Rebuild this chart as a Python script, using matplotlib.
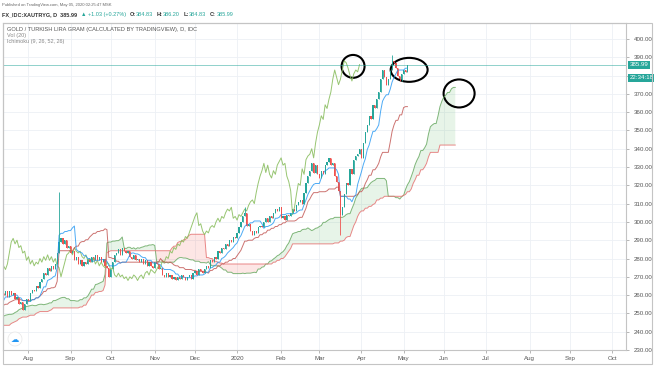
import numpy as np
import pandas as pd
import matplotlib
matplotlib.use("Agg")
import matplotlib.pyplot as plt
from matplotlib.patches import Ellipse, Rectangle
from matplotlib.transforms import blended_transform_factory

plt.rcParams['font.family'] = ['Liberation Sans', 'DejaVu Sans']

# daily closes (business days), gold / turkish lira gram
pre_start = "2019-03-18"
pre_closes = [232, 233, 234, 233, 235, 236, 235, 234, 236, 235,
              234, 233, 235, 236, 237, 238, 239, 240, 238, 237,
              236, 237, 238, 239, 238, 240, 241, 243, 244, 245,
              244, 243, 242, 243, 244, 246, 248, 249, 250, 252,
              254, 253, 251, 250, 249, 248, 247, 246, 245, 246,
              245, 244, 246, 247, 249, 250, 251, 252, 251, 250,
              249, 248, 250, 251, 252, 253, 255, 256, 258, 259,
              260, 259, 257, 256, 255, 254, 253, 256, 257, 256,
              257, 258, 259, 260, 261]
start = "2019-07-15"
closes = [260, 262, 259, 262, 260, 261, 258, 259, 255, 256,
          252, 255, 258, 257, 261, 263, 262, 265, 264, 267,
          269, 272, 271, 275, 273, 276, 274, 277, 283, 289,
          291, 288, 290, 286, 287, 283, 284, 279, 281, 277,
          279, 276, 278, 277, 280, 278, 281, 279, 282, 279,
          281, 278, 280, 276, 275, 270, 274, 278, 282, 283,
          285, 282, 286, 284, 283, 284, 281, 280, 282, 279,
          280, 278, 280, 277, 279, 276, 278, 276, 275, 278,
          277, 274, 275, 271, 270, 272, 270, 271, 269, 270,
          268, 270, 269, 271, 270, 268, 270, 271, 269, 272,
          273, 271, 274, 273, 272, 274, 276, 275, 279, 278,
          281, 280, 284, 283, 286, 285, 288, 287, 290, 289,
          292, 291, 294, 297, 300, 303, 305, 298, 299, 295,
          293, 295, 294, 297, 298, 297, 300, 302, 300, 303,
          302, 305, 307, 306, 308, 302, 303, 301, 304, 303,
          305, 307, 306, 309, 311, 312, 310, 316, 321, 325,
          328, 332, 327, 331, 326, 324, 328, 326, 331, 333,
          335, 331, 332, 325, 322, 317, 304, 308, 315, 321,
          320, 329, 326, 334, 336, 337, 340, 335, 343, 349,
          353, 358, 356, 364, 362, 367, 371, 378, 383, 379,
          375, 378, 383, 388, 387, 384, 380, 377, 381, 383,
          382, 385.99]
spike_high = {29: 316.5, 126: 308.0, 203: 391.0}
spike_low = {176: 293.0}

price_ticks = list(range(230, 401, 10))
last_price = 385.99
last_time = "22:34:18"
circles = [(182.6, 385.0, 12.0, 12.5), (211.9, 383.1, 19.3, 13.1), (238.0, 370.2, 16.2, 15.3)]

n_pre = len(pre_closes)
c = np.array(pre_closes + closes, dtype=float)
o = np.r_[c[0], c[:-1]]
h = np.maximum(o, c)
l = np.minimum(o, c)
for k, v in spike_high.items():
    h[n_pre + k] = v
for k, v in spike_low.items():
    l[n_pre + k] = v
idx = np.arange(len(c)) - n_pre

H, L = pd.Series(h), pd.Series(l)
def mid(n):
    return ((H.rolling(n).max() + L.rolling(n).min()) / 2).values
tenkan = mid(9)
kijun = mid(26)
span_a = (tenkan + kijun) / 2
span_b = mid(52)

fig = plt.figure(figsize=(6.54, 3.66), dpi=100)
W, HH = 654, 366
def fx(x): return x / W
def fy(y): return 1 - y / HH

ax = fig.add_axes([fx(3), fy(350), (626 - 3) / W, (350 - 23) / HH])
ax.set_xlim(-0.3, 325.2)
ax.set_ylim(230.5, 408.7)

# month ticks on business-day index
days = pd.bdate_range(start, periods=330)
ser = pd.Series(np.arange(len(days)), index=days)
first = ser.groupby([days.year, days.month]).min()
mpos = first.values[1:]
mlab = ["2020" if d.month == 1 else d.strftime("%b") for d in days[mpos]]
ax.set_xticks(mpos)
ax.set_xticklabels(mlab)
ax.set_yticks(price_ticks)
ax.set_yticklabels(["" if p == 380 else "%.2f" % p for p in price_ticks])
ax.yaxis.tick_right()
ax.tick_params(axis='both', labelsize=4.4, colors='#9a9a9a', labelcolor='#555555', length=2, width=0.5)
ax.tick_params(axis='x', pad=2.5)
ax.grid(color='#edf0f5', lw=0.6)
ax.set_axisbelow(True)
for s in ax.spines.values():
    s.set_color('#c4c4c4')
    s.set_linewidth(0.8)

# cloud
sx = idx + 25
ax.fill_between(sx, span_a, span_b, where=span_a >= span_b, interpolate=True, color='#4caf50', alpha=0.13, lw=0)
ax.fill_between(sx, span_a, span_b, where=span_a < span_b, interpolate=True, color='#f44336', alpha=0.13, lw=0)
ax.plot(sx, span_a, color='#6aaa64', lw=0.7, alpha=0.85)
ax.plot(sx, span_b, color='#e57373', lw=0.7, alpha=0.85)
ax.plot(idx - 25, c, color='#8cbf62', lw=0.7, alpha=0.9)
ax.plot(idx, kijun, color='#c0504d', lw=0.7, alpha=0.8)
ax.plot(idx, tenkan, color='#2196f3', lw=0.7, alpha=0.8)

# candles
vis = idx >= -1
up = c >= o
col = np.where(up, '#26a69a', '#ef5350')
ax.vlines(idx[vis], l[vis], h[vis], colors=col[vis], lw=0.6)
ax.bar(idx[vis], c[vis] - o[vis], bottom=o[vis], width=0.62, color=col[vis], lw=0)

ax.axhline(last_price, color='#26a69a', lw=0.6, alpha=0.6)

bt = blended_transform_factory(ax.transAxes, ax.transData)
ax.text(1.006, last_price, "%.2f" % last_price, transform=bt, fontsize=4.4, color='white',
        va='center', ha='left', bbox=dict(boxstyle='square,pad=0.25', fc='#26a69a', ec='none'), clip_on=False)
ax.annotate(last_time, xy=(1.006, last_price), xycoords=bt, xytext=(0, -9.5), textcoords='offset points',
            fontsize=4.4, color='white', va='center', ha='left',
            bbox=dict(boxstyle='square,pad=0.25', fc='#26a69a', ec='none'), annotation_clip=False)

for cx, cy, w, hgt in circles:
    ax.add_patch(Ellipse((cx, cy), w, hgt, fill=False, color='black', lw=1.5, clip_on=False))

# outer frame
fig.add_artist(Rectangle((fx(3), fy(364)), fx(652) - fx(3), fy(23) - fy(364), transform=fig.transFigure,
                         fill=False, ec='#c4c4c4', lw=0.8))

# icon
fig.text(fx(15), fy(339), "\u2601", fontsize=6, color='#2196f3', ha='center', va='center',
         family=['DejaVu Sans'],
         bbox=dict(boxstyle='circle,pad=0.3', fc='white', ec='#e6e6e6', lw=0.5))

# header texts
fig.text(fx(2), fy(5), "Published on TradingView.com, May 05, 2020 02:25:47 MSK", fontsize=3.0,
         color='#666666', va='center')
r = fig.canvas.get_renderer()
xpos = 2
parts = [("FX_IDC:XAUTRYG, D  385.99", '#333333', 'bold'),
         ("\u25b2 +1.03 (+0.27%)", '#26a69a', 'normal'),
         ("O:", '#333333', 'bold'), ("384.83", '#26a69a', 'normal'),
         ("H:", '#333333', 'bold'), ("386.20", '#26a69a', 'normal'),
         ("L:", '#333333', 'bold'), ("384.83", '#26a69a', 'normal'),
         ("C:", '#333333', 'bold'), ("385.99", '#26a69a', 'normal')]
for txt, colr, wt in parts:
    t = fig.text(fx(xpos), fy(14.5), txt, fontsize=4.0, color=colr, weight=wt, va='center',
                 family=['Liberation Sans', 'DejaVu Sans'])
    bb = t.get_window_extent(renderer=r)
    xpos += bb.width + (0.5 if txt.endswith(":") else 3.5)

fig.text(fx(7), fy(29), "GOLD / TURKISH LIRA GRAM (CALCULATED BY TRADINGVIEW), D, IDC", fontsize=4.1,
         color='#555555', va='center')
fig.text(fx(7), fy(35), "Vol (20)", fontsize=4.0, color='#888888', va='center')
fig.text(fx(7), fy(41), "Ichimoku (9, 26, 52, 26)", fontsize=4.0, color='#888888', va='center')

fig.savefig("out.png", dpi=100, facecolor='white')
